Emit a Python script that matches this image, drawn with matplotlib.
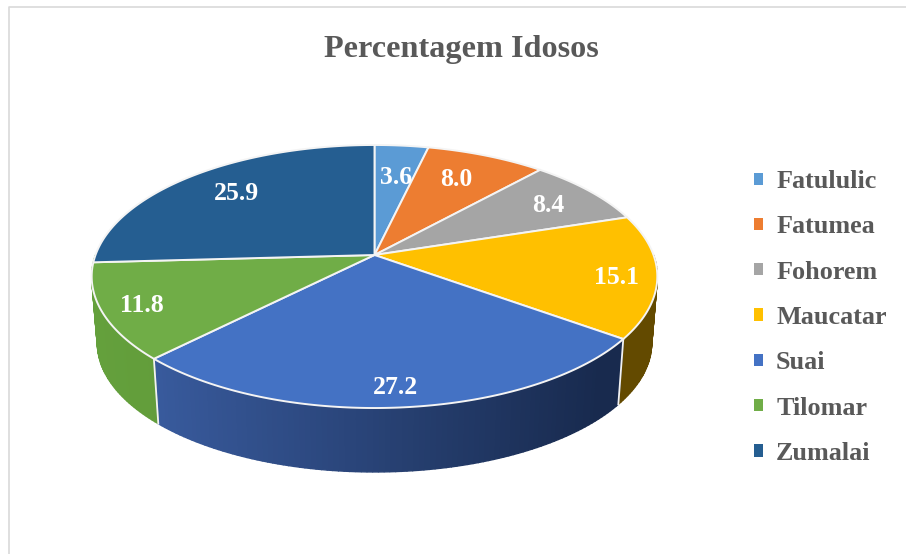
import numpy as np
import matplotlib
matplotlib.use("Agg")
import matplotlib.pyplot as plt
from matplotlib.patches import Patch
from matplotlib.colors import to_rgb

names = ["Fatululic", "Fatumea", "Fohorem", "Maucatar", "Suai", "Tilomar", "Zumalai"]
values = [3.6, 8.0, 8.4, 15.1, 27.2, 11.8, 25.9]
colors = ["#5b9bd5", "#ed7d31", "#a5a5a5", "#ffc000", "#4472c4", "#70ad47", "#255e91"]
# the last wall colour stays green so the few degrees past Tilomar blend in at the silhouette
side_left = ["#35587f", "#8a4a1d", "#606060", "#6b5000", "#385a9c", "#64a03c", "#64a03c"]
side_right = ["#35587f", "#8a4a1d", "#606060", "#634a00", "#182a4e", "#568733", "#568733"]
label_pos = [(396, 177), (456, 179), (548, 206), (616, 277), (396, 387), (142, 306), (236, 194)]

plt.rcParams["font.family"] = ["Liberation Serif", "DejaVu Serif"]

# pie centre and perspective of the tilted disc, in pixels
cx, cy = 374.5, 255
b, a, k = 279, 128, 0.1635
depth = 67
shrink = 0.98


def rim(theta, s=1.0, dy=0.0):
    # theta in degrees, clockwise from the top
    u = np.sin(np.radians(theta))
    v = np.cos(np.radians(theta))
    w = 1 + k * v
    return cx + s * b * u / w, cy - s * a * v / w + dy


fig = plt.figure(figsize=(9.06, 5.54), dpi=100)
ax = fig.add_axes([0, 0, 1, 1])
ax.set_xlim(0, 906)
ax.set_ylim(554, 0)
ax.axis("off")

# chart frame, only the top and left sides show
ax.plot([906, 9, 9], [7, 7, 554], color="#d9d9d9", lw=1.2)

edges = np.cumsum([0] + values) * 3.6

# side wall, only the front half of the disc
for i in range(len(values)):
    t0, t1 = max(edges[i], 90), min(edges[i + 1], 270)
    if t1 <= t0:
        continue
    ts = np.linspace(t0, t1, int(t1 - t0) + 2)
    c0 = np.array(to_rgb(side_left[i]))
    c1 = np.array(to_rgb(side_right[i]))
    for t_a, t_b in zip(ts[:-1], ts[1:]):
        xa, ya = rim(t_a)
        xb, yb = rim(t_b)
        xc, yc = rim(t_b, shrink, depth)
        xd, yd = rim(t_a, shrink, depth)
        f = np.clip(((xa + xb) / 2 - 91) / (658 - 91), 0, 1)
        if i == 4:
            f = np.clip(((xa + xb) / 2 - 157) / (600 - 157), 0, 1)
        col = c0 + (c1 - c0) * f
        ax.fill([xa, xb, xc, xd], [ya, yb, yc, yd], color=col, lw=1.0, zorder=2)

# white dividers on the wall
for t in edges[4:6]:
    x0, y0 = rim(t)
    x1, y1 = rim(t, shrink, depth)
    ax.plot([x0, x1], [y0, y1], color="#f2f2f2", lw=1.3, zorder=3)

# top face
for i in range(len(values)):
    ts = np.linspace(edges[i], edges[i + 1], 120)
    xs, ys = rim(ts)
    ax.fill(np.r_[cx, xs], np.r_[cy, ys], facecolor=colors[i], edgecolor="#f4f4f4",
            lw=1.4, joinstyle="round", zorder=4)

for val, (x, y) in zip(values, label_pos):
    ax.text(x, y, "%.1f" % val, color="white", fontsize=18.5, fontweight="bold",
            ha="center", va="center", zorder=5)

ax.text(461, 50, "Percentagem Idosos", color="#595959", fontsize=23.2, fontweight="bold",
        ha="center", va="center")

handles = [Patch(facecolor=c, edgecolor="none") for c in colors]
leg = ax.legend(handles, names, loc="upper left", bbox_to_anchor=(754 / 906, 1 - 170 / 554),
                frameon=False, fontsize=18.8, labelspacing=0.855, handlelength=0.345,
                handleheight=0.345, handletextpad=0.5, borderaxespad=0, borderpad=0)
for txt in leg.get_texts():
    txt.set_color("#595959")
    txt.set_fontweight("bold")

fig.savefig("out.png", dpi=100)
